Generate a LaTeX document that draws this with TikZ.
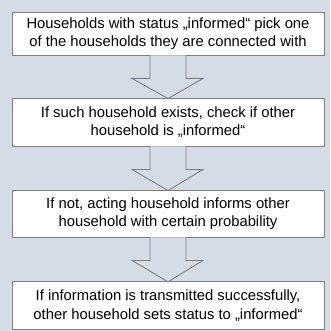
\documentclass[tikz,border=0pt]{standalone}
\usepackage{fontspec}
\setmainfont{Liberation Sans}
\usetikzlibrary{calc}
\definecolor{bgc}{HTML}{D6DCE5}
\definecolor{edgec}{HTML}{7F7F7F}
\tikzset{
  stepbox/.style={draw=edgec, line width=0.9pt, fill=white, minimum width=312pt, inner sep=0pt, align=center, font=\fontsize{14.8pt}{18.5pt}\selectfont},
  blockarrow/.style={draw=edgec, line width=0.9pt, fill=bgc, line join=miter}
}
\newcommand{\blockarr}[2]{%
  \draw[blockarrow] ($(#1.south)+(-18pt,0)$) -- ++(0,-23pt) -- ++(-18pt,0) -- ($(#2.north)+(0,-1pt)$) -- ($(#1.south)+(35pt,-23pt)$) -- ++(-17pt,0) -- ($(#1.south)+(18pt,0)$);}
\begin{document}
\begin{tikzpicture}[x=1pt,y=-1pt]
\fill[bgc] (0,0) rectangle (330,331);
\useasboundingbox (0,0) rectangle (330,331);
\node[stepbox, minimum height=43pt] (b1) at (168,33.5) {Households with status „informed“ pick one\\of the households they are connected with};
\node[stepbox, minimum height=48pt] (b2) at (168,122) {If such household exists, check if other\\household is „informed“};
\node[stepbox, minimum height=47pt] (b3) at (168,213.5) {If not, acting household informs other\\household with certain probability};
\node[stepbox, minimum height=48.5pt] (b4) at (168,305.5) {If information is transmitted successfully,\\other household sets status to „informed“};
\blockarr{b1}{b2}
\blockarr{b2}{b3}
\blockarr{b3}{b4}
\end{tikzpicture}
\end{document}
